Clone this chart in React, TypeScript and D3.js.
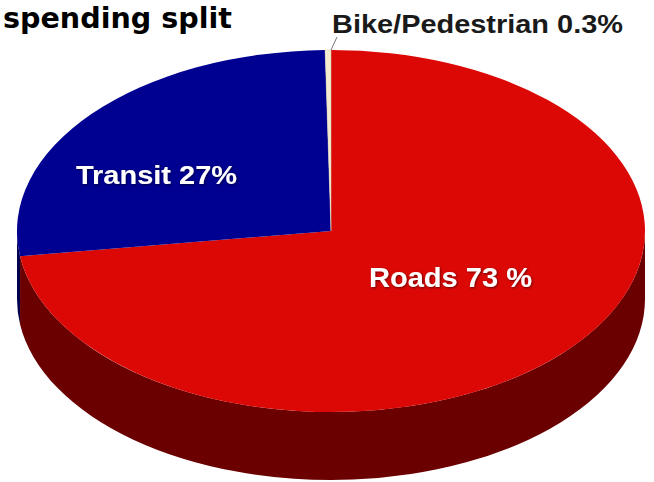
import React from "react";
import * as d3 from "d3";

const categories = ["Roads", "Transit", "Bike/Pedestrian"];
const values = [73, 27, 0.3];
const labels = ["Roads 73 %", "Transit 27%", "Bike/Pedestrian 0.3%"];
const topColors = ["#dc0806", "#000091", "#f3ecd0"];
const sideColors = ["#6b0000", "#00004c", "#b0a890"];
const title = "spending split";

const W = 654;
const H = 482;
const cx = 331;
const cy = 231;
const rx = 314;
const ry = 181;
const depth = 68;

function pt(a: number, dy = 0): [number, number] {
  return [cx + rx * Math.sin(a), cy - ry * Math.cos(a) + dy];
}

function topPath(a0: number, a1: number): string {
  const [x0, y0] = pt(a0);
  const [x1, y1] = pt(a1);
  const large = a1 - a0 > Math.PI ? 1 : 0;
  return `M${cx},${cy}L${x0},${y0}A${rx},${ry} 0 ${large} 1 ${x1},${y1}Z`;
}

function sidePath(a0: number, a1: number): string | null {
  const s0 = Math.max(a0, Math.PI / 2);
  const s1 = Math.min(a1, (3 * Math.PI) / 2);
  if (s1 <= s0) return null;
  const [x0, y0] = pt(s0);
  const [x1, y1] = pt(s1);
  const [x2, y2] = pt(s1, depth);
  const [x3, y3] = pt(s0, depth);
  return `M${x0},${y0}A${rx},${ry} 0 0 1 ${x1},${y1}L${x2},${y2}A${rx},${ry} 0 0 0 ${x3},${y3}Z`;
}

export default function App() {
  const pie = d3
    .pie<number>()
    .sort(null)
    .value((d) => d)
    .startAngle(0)
    .endAngle(2 * Math.PI);
  const arcs = pie(values);

  return (
    <svg
      width={W}
      height={H}
      viewBox={`0 0 ${W} ${H}`}
      style={{ position: "absolute", left: 0, top: 0, background: "#ffffff" }}
    >
      <defs>
        <filter id="shadow" x="-10%" y="-20%" width="120%" height="140%">
          <feDropShadow dx="0.8" dy="0.8" stdDeviation="0.8" floodColor="#000" floodOpacity="0.6" />
        </filter>
      </defs>
      {arcs.map((a, i) => {
        const p = sidePath(a.startAngle, a.endAngle);
        return p ? <path key={"s" + i} d={p} fill={sideColors[i]} /> : null;
      })}
      {arcs.map((a, i) => (
        <path
          key={"t" + i}
          d={topPath(a.startAngle, a.endAngle)}
          fill={topColors[i]}
          stroke={i === 2 ? "#d8d0b0" : "none"}
          strokeWidth={i === 2 ? 0.5 : 0}
        />
      ))}
      <line x1={331} y1={50} x2={337} y2={37} stroke="#777" strokeWidth={1} />
      <text
        x={3}
        y={28}
        fontFamily="'DejaVu Sans', 'Liberation Sans', sans-serif"
        fontWeight="bold"
        fontSize={29}
        fill="#000"
        textLength={229}
        lengthAdjust="spacingAndGlyphs"
      >
        {title}
      </text>
      <text
        x={332}
        y={33}
        fontFamily="'Liberation Sans', Arial, sans-serif"
        fontWeight="bold"
        fontSize={25}
        fill="#1a1a1a"
        textLength={291}
        lengthAdjust="spacingAndGlyphs"
      >
        {labels[2]}
      </text>
      <text
        x={76}
        y={184}
        fontFamily="'Liberation Sans', Arial, sans-serif"
        fontWeight="bold"
        fontSize={26}
        fill="#ffffff"
        textLength={161}
        lengthAdjust="spacingAndGlyphs"
        filter="url(#shadow)"
      >
        {labels[1]}
      </text>
      <text
        x={369}
        y={287}
        fontFamily="'Liberation Sans', Arial, sans-serif"
        fontWeight="bold"
        fontSize={28}
        fill="#ffffff"
        textLength={163}
        lengthAdjust="spacingAndGlyphs"
        filter="url(#shadow)"
      >
        {labels[0]}
      </text>
    </svg>
  );
}
